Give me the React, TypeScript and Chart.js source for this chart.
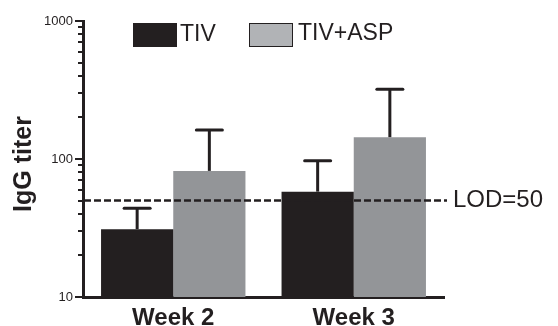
import React, { useEffect, useRef } from "react";
import { Chart, registerables } from "chart.js";

Chart.register(...registerables);

const categories = ["Week 2", "Week 3"];
const seriesNames = ["TIV", "TIV+ASP"];
const tivValues = [31, 58];
const tivErrorTops = [44, 97];
const aspValues = [82, 144];
const aspErrorTops = [162, 320];
const lodValue = 50;
const lodLabel = "LOD=50";
const yAxisTitle = "IgG titer";
const labeledTicks = [10, 100, 1000];
const allTicks = [10, 20, 30, 40, 50, 60, 70, 80, 90, 100, 200, 300, 400, 500, 600, 700, 800, 900, 1000];

const INK = "#231f20";
const BAR_GRAY = "#939598";
const LEGEND_GRAY = "#b1b3b6";
const FONT = "'Liberation Sans', Arial, Helvetica, sans-serif";

const errorTops = [tivErrorTops, aspErrorTops];

const overlayPlugin = {
  id: "overlay",
  afterDatasetsDraw(chart: any) {
    const ctx = chart.ctx;
    const y = chart.scales.y;
    const area = chart.chartArea;
    ctx.save();
    // error bars
    ctx.strokeStyle = INK;
    chart.data.datasets.forEach((ds: any, di: number) => {
      const meta = chart.getDatasetMeta(di);
      meta.data.forEach((bar: any, i: number) => {
        const top = y.getPixelForValue(errorTops[di][i]);
        ctx.lineWidth = 3;
        ctx.lineCap = "butt";
        ctx.beginPath();
        ctx.moveTo(bar.x, bar.y);
        ctx.lineTo(bar.x, top);
        ctx.stroke();
        ctx.lineCap = "round";
        ctx.beginPath();
        ctx.moveTo(bar.x - 13, top);
        ctx.lineTo(bar.x + 13, top);
        ctx.stroke();
      });
    });
    // LOD dashed line
    const ly = y.getPixelForValue(lodValue);
    ctx.lineCap = "butt";
    ctx.lineWidth = 2.5;
    ctx.setLineDash([7, 3]);
    ctx.beginPath();
    ctx.moveTo(area.left + 1, ly);
    ctx.lineTo(447, ly);
    ctx.stroke();
    ctx.setLineDash([]);
    ctx.fillStyle = INK;
    ctx.font = `24px ${FONT}`;
    ctx.textAlign = "left";
    ctx.textBaseline = "middle";
    ctx.fillText(lodLabel, 453, ly);
    ctx.restore();
  },
  afterDraw(chart: any) {
    const ctx = chart.ctx;
    const y = chart.scales.y;
    const area = chart.chartArea;
    ctx.save();
    // y-axis tick marks (major and minor)
    ctx.strokeStyle = INK;
    ctx.lineWidth = 2;
    allTicks.forEach((v) => {
      const py = Math.round(y.getPixelForValue(v));
      const len = labeledTicks.includes(v) ? 7 : 4;
      ctx.beginPath();
      ctx.moveTo(area.left - 1 - len, py);
      ctx.lineTo(area.left, py);
      ctx.stroke();
    });
    // y-axis title
    ctx.fillStyle = INK;
    ctx.font = `bold 25px ${FONT}`;
    ctx.textAlign = "center";
    ctx.textBaseline = "middle";
    ctx.translate(24, 164);
    ctx.rotate(-Math.PI / 2);
    ctx.fillText(yAxisTitle, 0, 0);
    ctx.restore();

    // legend
    ctx.save();
    ctx.font = `23px ${FONT}`;
    ctx.textAlign = "left";
    ctx.textBaseline = "middle";
    ctx.fillStyle = INK;
    ctx.fillRect(133, 23, 44, 24);
    ctx.fillText(seriesNames[0], 180, 35);
    ctx.fillStyle = LEGEND_GRAY;
    ctx.fillRect(249.5, 23.5, 43, 23);
    ctx.strokeStyle = INK;
    ctx.lineWidth = 1;
    ctx.strokeRect(249.5, 23.5, 43, 23);
    ctx.fillStyle = INK;
    ctx.fillText(seriesNames[1], 298, 34);
    ctx.restore();
  },
};

export default function App() {
  const ref = useRef<HTMLCanvasElement | null>(null);
  useEffect(() => {
    if (!ref.current) return;
    const chart = new Chart(ref.current, {
      type: "bar",
      data: {
        labels: categories,
        datasets: [
          {
            label: seriesNames[0],
            data: tivValues,
            backgroundColor: INK,
            borderWidth: 0,
            categoryPercentage: 0.8,
            barPercentage: 1.0,
          },
          {
            label: seriesNames[1],
            data: aspValues,
            backgroundColor: BAR_GRAY,
            borderWidth: 0,
            categoryPercentage: 0.8,
            barPercentage: 1.0,
          },
        ],
      },
      options: {
        responsive: false,
        animation: false,
        devicePixelRatio: 1,
        layout: { padding: { top: 21, right: 114, left: 0, bottom: 0 } },
        plugins: {
          legend: { display: false },
          tooltip: { enabled: false },
        },
        scales: {
          x: {
            grid: { display: false, drawTicks: false },
            border: { display: true, width: 3, color: INK },
            ticks: {
              color: INK,
              font: { family: FONT, size: 24, weight: "bold" },
              padding: 7,
            },
            afterFit: (s: any) => {
              s.height = 29;
            },
          },
          y: {
            type: "logarithmic",
            min: 10,
            max: 1000,
            grid: { display: false, drawTicks: false },
            border: { display: true, width: 3, color: INK },
            afterBuildTicks: (s: any) => {
              s.ticks = allTicks.map((v) => ({ value: v }));
            },
            ticks: {
              autoSkip: false,
              color: INK,
              font: { family: FONT, size: 13 },
              padding: 10,
              callback: (v: any) => (labeledTicks.includes(Number(v)) ? String(v) : ""),
            },
            afterFit: (s: any) => {
              s.width = 83;
            },
          },
        },
      },
      plugins: [overlayPlugin],
    } as any);
    return () => chart.destroy();
  }, []);
  return (
    <div style={{ position: "absolute", left: 0, top: 0, width: 558, height: 326, background: "#fff" }}>
      <canvas ref={ref} width={558} height={326} style={{ display: "block" }} />
    </div>
  );
}
